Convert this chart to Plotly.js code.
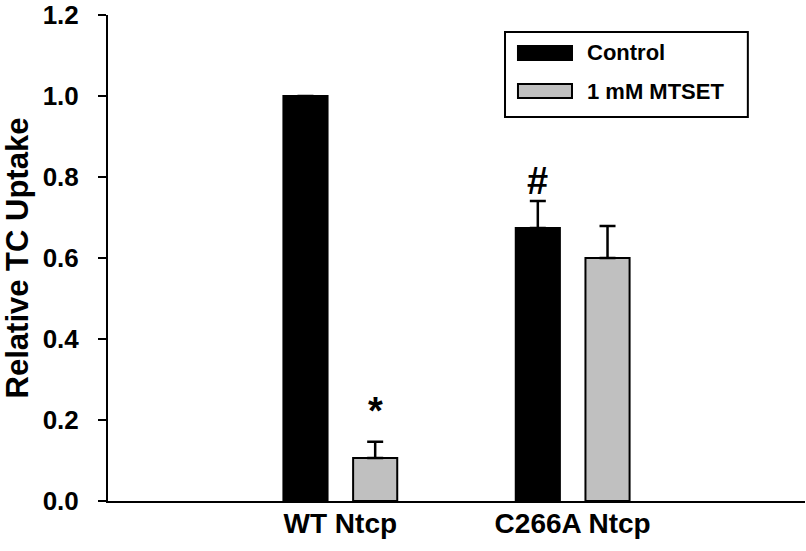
<!DOCTYPE html>
<html>
<head>
<meta charset="utf-8">
<script src="https://cdn.plot.ly/plotly-3.0.1.min.js"></script>
<style>html,body{margin:0;padding:0;background:#fff;}#chart{width:806px;height:551px;}</style>
</head>
<body>
<div id="chart"></div>
<script>
const categories = ["WT Ntcp", "C266A Ntcp"];
const seriesNames = ["Control", "1 mM MTSET"];
const controlValues = [1.0, 0.674];
const controlErrors = [0, 0.067];
const mtsetValues = [0.106, 0.600];
const mtsetErrors = [0.040, 0.079];
const yTickVals = [0, 0.2, 0.4, 0.6, 0.8, 1.0, 1.2];
const yTickText = ["0.0", "0.2", "0.4", "0.6", "0.8", "1.0", "1.2"];
const marks = [{text: "*", cat: 0, series: 1, y: 0.222}, {text: "#", cat: 1, series: 0, y: 0.79}];

const FONT = "Liberation Sans, Arial, sans-serif";
const colors = ["#000000", "#c0c0c0"];

const traces = [
  {type: "bar", name: seriesNames[0], x: categories, y: controlValues,
   marker: {color: colors[0], line: {color: "#000", width: 2}},
   error_y: {type: "data", array: controlErrors, arrayminus: controlErrors.map(() => 0), symmetric: false,
             visible: true, color: "#000", thickness: 2.5, width: 8}},
  {type: "bar", name: seriesNames[1], x: categories, y: mtsetValues,
   marker: {color: colors[1], line: {color: "#000", width: 2}},
   error_y: {type: "data", array: mtsetErrors, arrayminus: mtsetErrors.map(() => 0), symmetric: false,
             visible: true, color: "#000", thickness: 2.5, width: 8}}
];

const slot = 0.3;
const annotations = marks.map(m => ({
  x: m.cat + (m.series === 0 ? -slot / 2 : slot / 2), xref: "x", y: m.y, yref: "y",
  text: "<b>" + m.text + "</b>", showarrow: false, yanchor: "middle",
  font: {family: FONT, size: 38, color: "#000"}
}));

// custom legend (box + swatches + labels)
const lx0 = 0.5696, lx1 = 0.918, ly0 = 0.790, ly1 = 0.965;
const shapes = [
  {type: "rect", xref: "paper", yref: "paper", x0: lx0, x1: lx1, y0: ly0, y1: ly1,
   line: {color: "#000", width: 2}, fillcolor: "rgba(0,0,0,0)"},
  {type: "rect", xref: "paper", yref: "paper", x0: 0.5882, x1: 0.6657, y0: 0.9075, y1: 0.9363,
   line: {color: "#000", width: 2}, fillcolor: colors[0]},
  {type: "rect", xref: "paper", yref: "paper", x0: 0.5882, x1: 0.6657, y0: 0.8292, y1: 0.8580,
   line: {color: "#000", width: 2}, fillcolor: colors[1]}
];
annotations.push(
  {xref: "paper", yref: "paper", x: 0.6842, y: 0.922, xanchor: "left", yanchor: "middle", showarrow: false,
   text: "<b>" + seriesNames[0] + "</b>", font: {family: FONT, size: 22, color: "#000"}},
  {xref: "paper", yref: "paper", x: 0.6842, y: 0.843, xanchor: "left", yanchor: "middle", showarrow: false,
   text: "<b>" + seriesNames[1] + "</b>", font: {family: FONT, size: 22, color: "#000"}}
);

const layout = {
  width: 806, height: 551,
  margin: {l: 108, r: 1, t: 15, b: 50, pad: 0},
  paper_bgcolor: "#fff", plot_bgcolor: "#fff",
  barmode: "group", bargap: 0.4, bargroupgap: 0.367,
  showlegend: false,
  font: {family: FONT, color: "#000"},
  xaxis: {type: "category", range: [-1, 2], showline: true, linecolor: "#000", linewidth: 2,
          ticks: "", showgrid: false, zeroline: false, fixedrange: true,
          tickfont: {family: FONT, size: 28, color: "#000"}, ticklabelstandoff: -4,
          tickvals: categories, ticktext: categories.map(c => "<b>" + c + "</b>")},
  yaxis: {range: [0, 1.2], showline: true, linecolor: "#000", linewidth: 2,
          ticks: "outside", ticklen: 8, tickwidth: 2, tickcolor: "#000",
          showgrid: false, zeroline: false, fixedrange: true,
          tickvals: yTickVals, ticktext: yTickText.map(t => "<b>" + t + "</b>"),
          tickfont: {family: FONT, size: 26, color: "#000"}, ticklabelstandoff: 14,
          title: {text: "<b>Relative TC Uptake</b>", font: {family: FONT, size: 31, color: "#000"}, standoff: 8}},
  shapes: shapes,
  annotations: annotations
};

Plotly.newPlot("chart", traces, layout, {staticPlot: true, displayModeBar: false});
</script>
</body>
</html>
